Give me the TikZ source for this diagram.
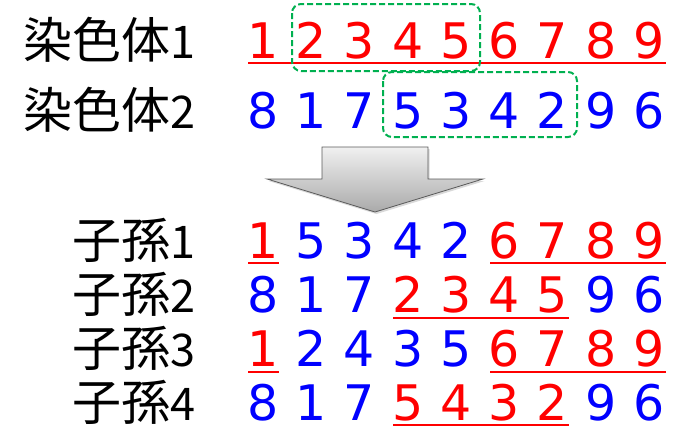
\documentclass[tikz,border=0pt]{standalone}
\usepackage{fontspec}
\newfontfamily\jpfont{Noto Sans CJK JP}
\newfontfamily\digfont{DejaVu Sans}
\definecolor{myred}{RGB}{255,0,0}
\definecolor{myblue}{RGB}{0,0,255}
\definecolor{mygreen}{RGB}{0,176,80}
\definecolor{arrowtop}{RGB}{240,240,240}
\definecolor{arrowbot}{RGB}{170,170,170}
\definecolor{arrowline}{RGB}{90,90,90}
\newcommand\mklab[2]{{\jpfont\fontsize{49}{60}\selectfont #1}{\jpfont\fontsize{45}{54}\selectfont #2}}
\newcommand\digitrow[3]{\foreach \d/\c [count=\i] in {#3} {\node[\c] (#1\i) at ({263+48.25*(\i-1)}, #2) {\d};}}
\begin{document}
\begin{tikzpicture}[x=1pt,y=-1pt,
  digit/.style={anchor=base,inner sep=0pt,font=\digfont\fontsize{49}{58}\selectfont},
  rd/.style={digit,text=myred},
  bl/.style={digit,text=myblue},
  lab/.style={anchor=base east,inner sep=0pt},
  uline/.style={draw=myred,line width=2pt},
  sel/.style={draw=mygreen,line width=2pt,rounded corners=9pt,dash pattern=on 6pt off 3pt}]
\useasboundingbox (0,0) rectangle (686,440);

% labels
\node[lab] (p1) at (196,58) {\mklab{染色体}{1}};
\node[lab] (p2) at (196,128) {\mklab{染色体}{2}};
\node[lab] (c1) at (196,258) {\mklab{子孫}{1}};
\node[lab] (c2) at (196,312) {\mklab{子孫}{2}};
\node[lab] (c3) at (196,366) {\mklab{子孫}{3}};
\node[lab] (c4) at (196,420) {\mklab{子孫}{4}};

% parent rows
\digitrow{a}{58}{1/rd,2/rd,3/rd,4/rd,5/rd,6/rd,7/rd,8/rd,9/rd}
\digitrow{b}{128}{8/bl,1/bl,7/bl,5/bl,3/bl,4/bl,2/bl,9/bl,6/bl}
% children
\digitrow{e}{258}{1/rd,5/bl,3/bl,4/bl,2/bl,6/rd,7/rd,8/rd,9/rd}
\digitrow{f}{312}{8/bl,1/bl,7/bl,2/rd,3/rd,4/rd,5/rd,9/bl,6/bl}
\digitrow{g}{366}{1/rd,2/bl,4/bl,3/bl,5/bl,6/rd,7/rd,8/rd,9/rd}
\digitrow{h}{420}{8/bl,1/bl,7/bl,5/rd,4/rd,3/rd,2/rd,9/bl,6/bl}

% underlines
\draw[uline] (248,63) -- (666,63);
\draw[uline] (248,263) -- (279,263);
\draw[uline] (490,263) -- (666,263);
\draw[uline] (393,318) -- (569,318);
\draw[uline] (248,372) -- (279,372);
\draw[uline] (490,372) -- (666,372);
\draw[uline] (393,425) -- (569,425);

% crossover segments
\draw[sel] (292,4) rectangle (480,71);
\draw[sel] (383,72) rectangle (577,137);

% arrow
\fill[black,opacity=0.15] (323.5,149) -- (429.5,149) -- (429.5,181) -- (484.5,181) -- (376.5,214) -- (268.5,181) -- (323.5,181) -- cycle;
\shade[top color=arrowtop,bottom color=arrowbot] (322,147) -- (428,147) -- (428,179) -- (483,179) -- (375,212) -- (267,179) -- (322,179) -- cycle;
\draw[arrowline,line width=0.8pt,line join=miter] (322,147) -- (428,147) -- (428,179) -- (483,179) -- (375,212) -- (267,179) -- (322,179) -- cycle;
\end{tikzpicture}
\end{document}
